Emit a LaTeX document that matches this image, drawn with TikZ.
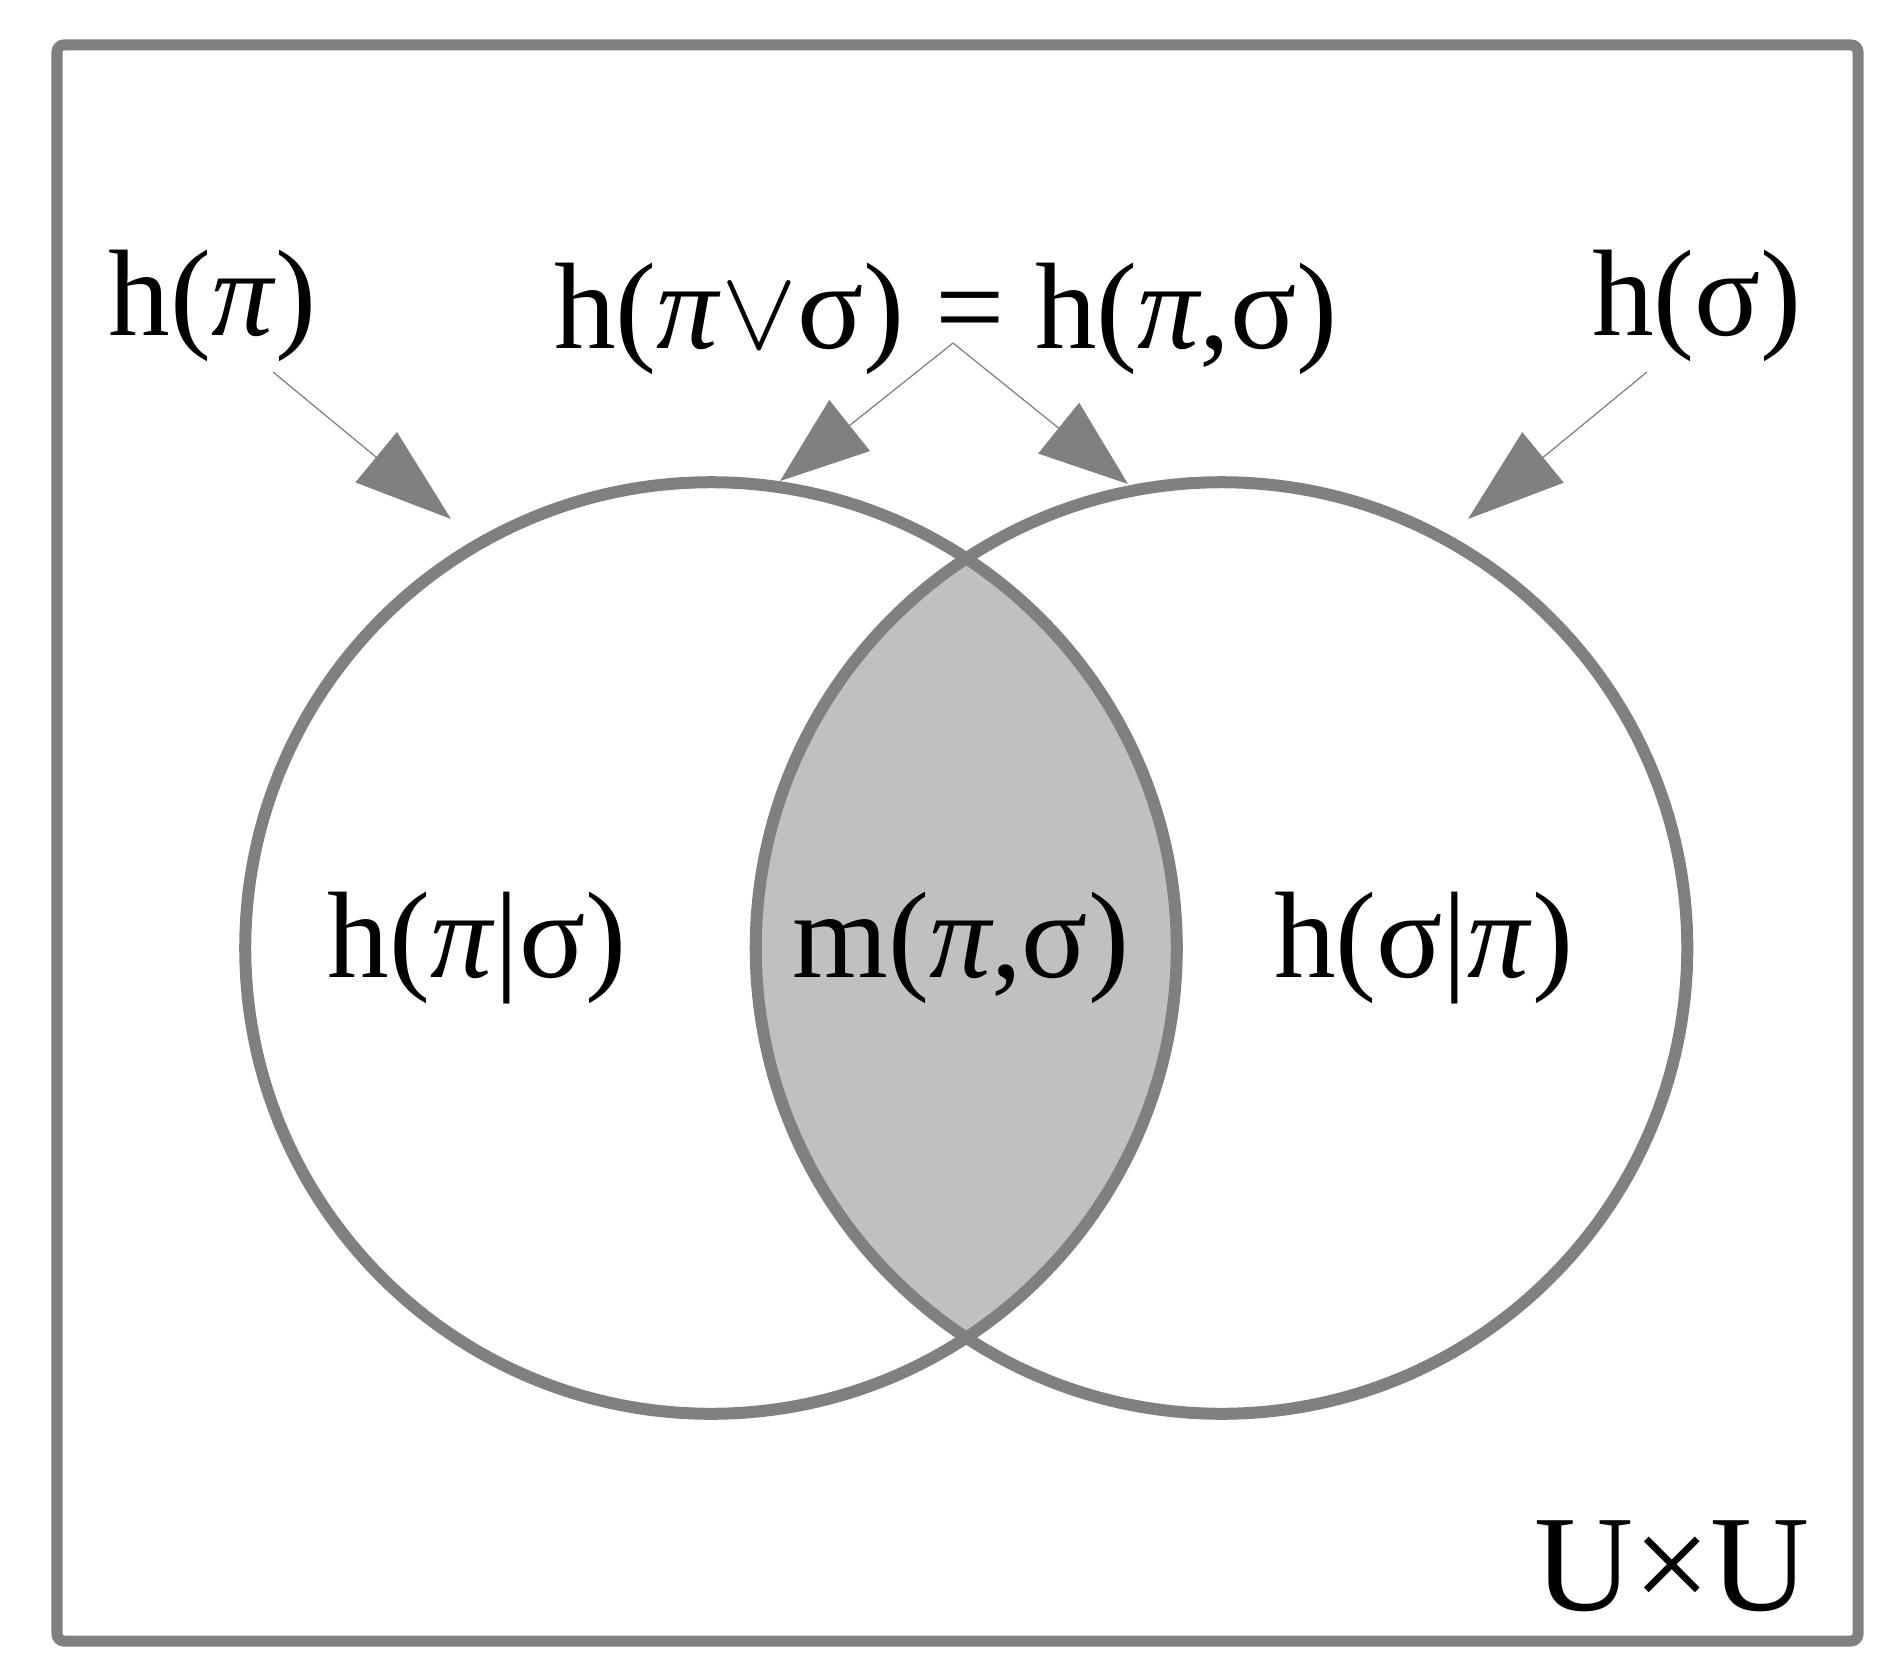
\documentclass[tikz,border=0pt]{standalone}
\usepackage{fontspec}
\usepackage{graphicx}
\setmainfont{Liberation Serif}
\usetikzlibrary{arrows.meta}
\definecolor{edgegray}{HTML}{808080}
\definecolor{lensfill}{HTML}{C0C0C0}
\newcommand\gp{\textit{π}}
\newcommand\gvee{\scalebox{1.3}{$\vee$}}
\begin{document}
\begin{tikzpicture}[x=0.01cm,y=-0.01cm,
  lbl/.style={anchor=base,inner sep=0pt,font=\fontsize{35}{42}\selectfont},
  venn/.style={circle,draw=edgegray,line width=0.12cm,minimum size=9.31cm,inner sep=0pt},
  ptr/.style={draw=edgegray,line width=0.35pt,-{Triangle[length=0.97cm,width=0.65cm]}},
  ptrmid/.style={draw=edgegray,line width=0.35pt,-{Triangle[length=0.89cm,width=0.65cm]}}]
\useasboundingbox (0,0) rectangle (1901,1673);
\fill[white] (0,0) rectangle (1901,1673);
\draw[edgegray,line width=0.11cm,rounded corners=2pt] (57,45) rectangle (1858,1641);
% lens
\coordinate (cl) at (711,948);
\coordinate (cr) at (1221.5,948);
\begin{scope}
  \clip (cl) circle[radius=4.655cm];
  \fill[lensfill] (cr) circle[radius=4.655cm];
\end{scope}
\node[venn] (L) at (cl) {};
\node[venn] (R) at (cr) {};
% labels
\node[lbl] (hp) at (212.5,336) {h(\gp)};
\node[lbl] (hs) at (1697,336) {h(σ)};
\node[lbl] (hj) at (946,348) {h(\gp\gvee σ) = h(\gp,σ)};
\node[lbl] (hps) at (477,977) {h(\gp|σ)};
\node[lbl] (mps) at (961,977) {m(\gp,σ)};
\node[lbl] (hsp) at (1423.5,977) {h(σ|\gp)};
\node[lbl,font=\fontsize{39}{47}\selectfont] (uu) at (1672,1610) {U×U};
% connectors
\coordinate (a1s) at (273,372);
\coordinate (a1t) at (451,519);
\coordinate (apex) at (953,343);
\coordinate (a2t) at (780,481);
\coordinate (a3t) at (1128,484);
\coordinate (a4s) at (1647,372);
\coordinate (a4t) at (1468,519);
\draw[ptr] (a1s) -- (a1t);
\draw[ptrmid] (apex) -- (a2t);
\draw[ptrmid] (apex) -- (a3t);
\draw[ptr] (a4s) -- (a4t);
\end{tikzpicture}
\end{document}
